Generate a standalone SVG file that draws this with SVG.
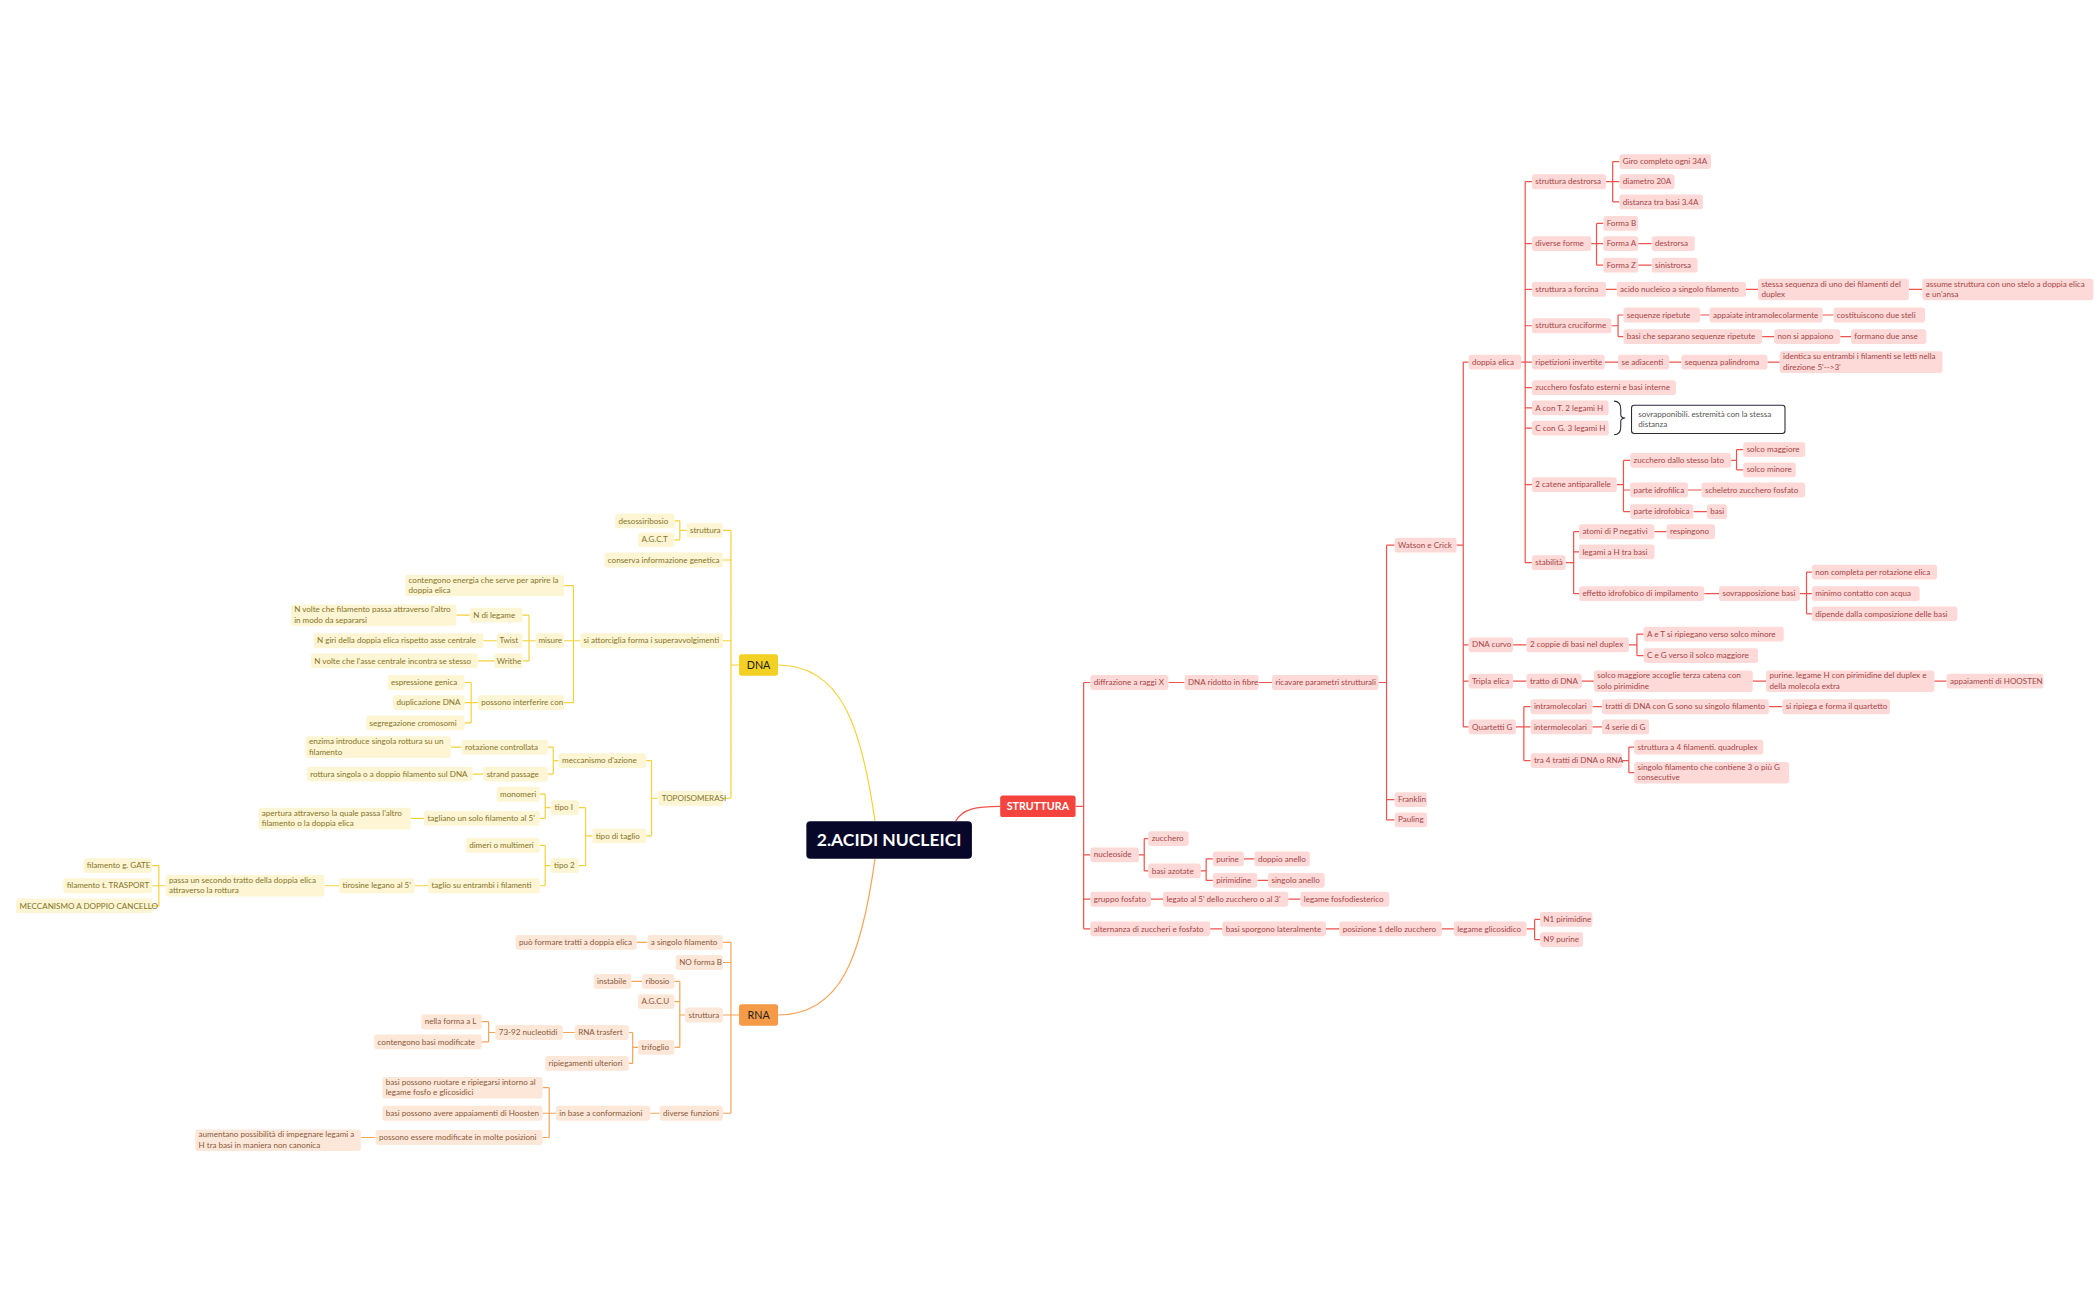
<svg xmlns="http://www.w3.org/2000/svg" width="2100" height="1300" viewBox="0 0 2100 1300">
<style>
text{font-family:Lato,"Open Sans",sans-serif;font-size:6px}
.y rect{fill:#fdf5d3}.y text{fill:#85742a}
.o rect{fill:#fde7d9}.o text{fill:#8a5a3a}
.r rect{fill:#fdd9d8}.r text{fill:#a54646}
.cy{fill:none;stroke:#f5d237;stroke-width:0.9}
.co{fill:none;stroke:#f6a458;stroke-width:0.9}
.cr{fill:none;stroke:#f0524c;stroke-width:0.9}
</style>
<rect width="2100" height="1300" fill="#fff"/>
<g transform="scale(1.34615)">
<g id="connectors" stroke-linejoin="round">
<path class="cy" d="M650 610 C640 540 625 494 578 494" stroke-width="1.1"/>
<path class="co" d="M650 638 C640 710 625 754 578 754" stroke-width="1.1"/>
<path class="cr" d="M710 610 C715 601 725 599 743 599" stroke-width="1.1"/>
<path class="cy" d="M549 494H543M543 394V593M543 394H537M543 416H537M543 476H537M543 593H537
M510 394H505M505 387V401M505 387H501M505 401H501
M431 476H426M426 435V522M426 435H419M426 476H419M426 522H419
M398 476H393M393 457V491M393 457H388M393 476H388M393 491H388
M349 457H339M369 476H359M367 491H355
M355 522H350M350 507V537M350 507H345M350 522H345M350 537H345
M489 593H484M484 565V621M484 565H480M484 621H480
M415 565H411M411 555V575M411 555H407M411 575H407
M343 555H335M359 575H351
M440 621H435M435 600V643M435 600H430M435 643H430
M409 600H405M405 590V608M405 590H401M405 608H401
M315 608H305
M409 643H405M405 628V658M405 628H401M405 658H401
M318 658H308M252 658H241
M123 658H118M118 643V673M118 643H113M118 658H113M118 673H113"/>
<path class="co" d="M549 754H543M543 700V827M543 700H537M543 715H537M543 754H537M543 827H537
M481 700H473
M509 754H505M505 729V778M505 729H501M505 744H501M505 778H501
M477 729H469
M474 778H470M470 767V790M470 767H467M470 790H467
M427 767H418
M368 767H363M363 759V774M363 759H358M363 774H358
M490 827H483
M413 827H408M408 808V845M408 808H403M408 827H403M408 845H403
M279 845H268"/>
<path class="cr" d="M799 599H805M805 507V690M805 507H810M805 635H810M805 668H810M805 690H810
M868 507H880M935 507H945M1024 507H1030
M1030 405V609M1030 405H1036M1030 594H1036M1030 609H1036
M1082 405H1087M1087 269V540M1087 269H1091M1087 479H1091M1087 506H1091M1087 540H1091
M1130 269H1133M1133 135V418M1133 135H1138M1133 181H1138M1133 215H1138M1133 242H1138M1133 269H1138M1133 288H1138M1133 303H1138M1133 318H1138M1133 360H1138M1133 418H1138
M1193 135H1198M1198 120V150M1198 120H1203M1198 135H1203M1198 150H1203
M1182 181H1186M1186 166V197M1186 166H1191M1186 181H1191M1186 197H1191
M1217 181H1227M1217 197H1227
M1193 215H1201M1297 215H1306M1418 215H1428
M1197 242H1202M1202 234V250M1202 234H1206M1202 250H1206
M1263 234H1270M1354 234H1362M1309 250H1318M1367 250H1375
M1192 269H1202M1240 269H1249M1313 269H1322
M1201 360H1206M1206 342V380M1206 342H1211M1206 364H1211M1206 380H1211
M1286 342H1290M1290 334V349M1290 334H1295M1290 349H1295
M1254 364H1264M1258 380H1268
M1163 418H1169M1169 395V441M1169 395H1173M1169 410H1173M1169 441H1173
M1229 395H1238M1266 441H1277
M1337 441H1342M1342 425V456M1342 425H1346M1342 441H1346M1342 456H1346
M1124 479H1134M1210 479H1216M1216 471V487M1216 471H1221M1216 487H1221
M1124 506H1134M1175 506H1184M1302 506H1312M1437 506H1446
M1126 540H1132M1132 525V565M1132 525H1137M1132 540H1137M1132 565H1137
M1183 525H1190M1314 525H1324M1183 540H1190
M1205 565H1210M1210 555V574M1210 555H1214M1210 574H1214
M846 635H850M850 623V647M850 623H853M850 647H853
M892 647H896M896 638V654M896 638H901M896 654H901
M924 638H932M934 654H942
M855 668H864M957 668H966
M899 690H908M985 690H995M1071 690H1080
M1134 690H1140M1140 683V698M1140 683H1144M1140 698H1144"/>
<path d="M1199 298Q1204 298 1204 304V308Q1204 310.5 1207 310.5Q1204 311 1204 313V317Q1204 323 1199 323" fill="none" stroke="#2a2a3a" stroke-width="0.8"/>
</g>

<g id="root"><rect x="599" y="610" width="123" height="28" rx="3" fill="#07072a"/><text x="660.5" y="628.5" text-anchor="middle" style="font-size:13px;font-weight:bold;fill:#fff">2.ACIDI NUCLEICI</text></g>
<g id="n-struttura"><rect x="743" y="591" width="56" height="16" rx="2" fill="#f5433d"/><text x="771" y="602" text-anchor="middle" style="font-size:8px;font-weight:bold;fill:#fff">STRUTTURA</text></g>
<g id="n-dna"><rect x="549" y="486" width="29" height="16" rx="2" fill="#f2d024"/><text x="563.5" y="497" text-anchor="middle" style="font-size:8px;fill:#222">DNA</text></g>
<g id="n-rna"><rect x="549" y="746" width="29" height="16" rx="2" fill="#f59a46"/><text x="563.5" y="757" text-anchor="middle" style="font-size:8px;fill:#222">RNA</text></g>

<g class="y">
<g id="y1"><rect x="510" y="388.5" width="27" height="11" rx="2"/><text x="512.5" y="396">struttura</text></g>
<g id="y2"><rect x="457" y="381.5" width="44" height="11" rx="2"/><text x="459.5" y="389">desossiribosio</text></g>
<g id="y3"><rect x="474" y="395.5" width="27" height="11" rx="2"/><text x="476.5" y="403">A.G.C.T</text></g>
<g id="y4"><rect x="449" y="410.5" width="88" height="11" rx="2"/><text x="451.5" y="418">conserva informazione genetica</text></g>
<g id="y5"><rect x="431" y="470.5" width="106" height="11" rx="2"/><text x="433.5" y="478">si attorciglia forma i superavvolgimenti</text></g>
<g id="y6"><rect x="301" y="427" width="118" height="16" rx="2"/><text x="303.5" y="433">contengono energia che serve per aprire la</text><text x="303.5" y="440.5">doppia elica</text></g>
<g id="y7"><rect x="398" y="470.5" width="21" height="11" rx="2"/><text x="400" y="478">misure</text></g>
<g id="y8"><rect x="349" y="451.5" width="39" height="11" rx="2"/><text x="351.5" y="459">N di legame</text></g>
<g id="y9"><rect x="369" y="470.5" width="19" height="11" rx="2"/><text x="371" y="478">Twist</text></g>
<g id="y10"><rect x="367" y="485.5" width="21" height="11" rx="2"/><text x="369" y="493">Writhe</text></g>
<g id="y11"><rect x="216" y="449" width="123" height="16" rx="2"/><text x="218.5" y="455">N volte che filamento passa attraverso l'altro</text><text x="218.5" y="462.5">in modo da separarsi</text></g>
<g id="y12"><rect x="233" y="470.5" width="126" height="11" rx="2"/><text x="235.5" y="478">N giri della doppia elica rispetto asse centrale</text></g>
<g id="y13"><rect x="231" y="485.5" width="124" height="11" rx="2"/><text x="233.5" y="493">N volte che l'asse centrale incontra se stesso</text></g>
<g id="y14"><rect x="355" y="516.5" width="64" height="11" rx="2"/><text x="357.5" y="524">possono interferire con</text></g>
<g id="y15"><rect x="288" y="501.5" width="57" height="11" rx="2"/><text x="290.5" y="509">espressione genica</text></g>
<g id="y16"><rect x="292" y="516.5" width="53" height="11" rx="2"/><text x="294.5" y="524">duplicazione DNA</text></g>
<g id="y17"><rect x="272" y="531.5" width="73" height="11" rx="2"/><text x="274.5" y="539">segregazione cromosomi</text></g>
<g id="y18"><rect x="489" y="587.5" width="48" height="11" rx="2"/><text x="491.5" y="595">TOPOISOMERASI</text></g>
<g id="y19"><rect x="415" y="559.5" width="65" height="11" rx="2"/><text x="417.5" y="567">meccanismo d'azione</text></g>
<g id="y20"><rect x="343" y="549.5" width="64" height="11" rx="2"/><text x="345.5" y="557">rotazione controllata</text></g>
<g id="y21"><rect x="359" y="569.5" width="48" height="11" rx="2"/><text x="361.5" y="577">strand passage</text></g>
<g id="y22"><rect x="227" y="547" width="108" height="16" rx="2"/><text x="229.5" y="553">enzima introduce singola rottura su un</text><text x="229.5" y="560.5">filamento</text></g>
<g id="y23"><rect x="228" y="569.5" width="123" height="11" rx="2"/><text x="230.5" y="577">rottura singola o a doppio filamento sul DNA</text></g>
<g id="y24"><rect x="440" y="615.5" width="40" height="11" rx="2"/><text x="442.5" y="623">tipo di taglio</text></g>
<g id="y25"><rect x="409" y="594.5" width="21" height="11" rx="2"/><text x="412" y="602">tipo I</text></g>
<g id="y26"><rect x="369" y="584.5" width="32" height="11" rx="2"/><text x="371.5" y="592">monomeri</text></g>
<g id="y27"><rect x="315" y="602.5" width="86" height="11" rx="2"/><text x="317.5" y="610">tagliano un solo filamento al 5'</text></g>
<g id="y28"><rect x="192" y="600" width="113" height="16" rx="2"/><text x="194.5" y="606">apertura attraverso la quale passa l'altro</text><text x="194.5" y="613.5">filamento o la doppia elica</text></g>
<g id="y29"><rect x="409" y="637.5" width="21" height="11" rx="2"/><text x="411.5" y="645">tipo 2</text></g>
<g id="y30"><rect x="346" y="622.5" width="55" height="11" rx="2"/><text x="348.5" y="630">dimeri o multimeri</text></g>
<g id="y31"><rect x="318" y="652.5" width="83" height="11" rx="2"/><text x="320.5" y="660">taglio su entrambi i filamenti</text></g>
<g id="y32"><rect x="252" y="652.5" width="56" height="11" rx="2"/><text x="254.5" y="660">tirosine legano al 5'</text></g>
<g id="y33"><rect x="123" y="650" width="118" height="16" rx="2"/><text x="125.5" y="656">passa un secondo tratto della doppia elica</text><text x="125.5" y="663.5">attraverso la rottura</text></g>
<g id="y34"><rect x="62" y="637.5" width="51" height="11" rx="2"/><text x="64.5" y="645">filamento g. GATE</text></g>
<g id="y35"><rect x="47" y="652.5" width="66" height="11" rx="2"/><text x="49.5" y="660">filamento t. TRASPORT</text></g>
<g id="y36"><rect x="12" y="667.5" width="101" height="11" rx="2"/><text x="14.5" y="675">MECCANISMO A DOPPIO CANCELLO</text></g>
</g>

<g class="o">
<g id="o1"><rect x="481" y="694.5" width="56" height="11" rx="2"/><text x="483.5" y="702">a singolo filamento</text></g>
<g id="o2"><rect x="383" y="694.5" width="90" height="11" rx="2"/><text x="385.5" y="702">può formare tratti a doppia elica</text></g>
<g id="o3"><rect x="502" y="709.5" width="35" height="11" rx="2"/><text x="504.5" y="717">NO forma B</text></g>
<g id="o4"><rect x="509" y="748.5" width="28" height="11" rx="2"/><text x="511.5" y="756">struttura</text></g>
<g id="o5"><rect x="477" y="723.5" width="24" height="11" rx="2"/><text x="479.5" y="731">ribosio</text></g>
<g id="o6"><rect x="441" y="723.5" width="28" height="11" rx="2"/><text x="443.5" y="731">instabile</text></g>
<g id="o7"><rect x="474" y="738.5" width="27" height="11" rx="2"/><text x="476.5" y="746">A.G.C.U</text></g>
<g id="o8"><rect x="474" y="772.5" width="27" height="11" rx="2"/><text x="476.5" y="780">trifoglio</text></g>
<g id="o9"><rect x="427" y="761.5" width="40" height="11" rx="2"/><text x="429.5" y="769">RNA trasfert</text></g>
<g id="o10"><rect x="405" y="784.5" width="62" height="11" rx="2"/><text x="407.5" y="792">ripiegamenti ulteriori</text></g>
<g id="o11"><rect x="368" y="761.5" width="50" height="11" rx="2"/><text x="370.5" y="769">73-92 nucleotidi</text></g>
<g id="o12"><rect x="313" y="753.5" width="45" height="11" rx="2"/><text x="315.5" y="761">nella forma a L</text></g>
<g id="o13"><rect x="278" y="768.5" width="80" height="11" rx="2"/><text x="280.5" y="776">contengono basi modificate</text></g>
<g id="o14"><rect x="490" y="821.5" width="47" height="11" rx="2"/><text x="492.5" y="829">diverse funzioni</text></g>
<g id="o15"><rect x="413" y="821.5" width="70" height="11" rx="2"/><text x="415.5" y="829">in base a conformazioni</text></g>
<g id="o16"><rect x="284" y="800" width="119" height="16" rx="2"/><text x="286.5" y="806">basi possono ruotare e ripiegarsi intorno al</text><text x="286.5" y="813.5">legame fosfo e glicosidici</text></g>
<g id="o17"><rect x="284" y="821.5" width="119" height="11" rx="2"/><text x="286.5" y="829">basi possono avere appaiamenti di Hoosten</text></g>
<g id="o18"><rect x="279" y="839.5" width="124" height="11" rx="2"/><text x="281.5" y="847">possono essere modificate in molte posizioni</text></g>
<g id="o19"><rect x="145" y="839" width="123" height="16" rx="2"/><text x="147.5" y="845">aumentano possibilità di impegnare legami a</text><text x="147.5" y="852.5">H tra basi in maniera non canonica</text></g>
</g>

<g class="r">
<g id="r1"><rect x="810" y="501.5" width="58" height="11" rx="2"/><text x="812.5" y="509">diffrazione a raggi X</text></g>
<g id="r2"><rect x="880" y="501.5" width="55" height="11" rx="2"/><text x="882.5" y="509">DNA ridotto in fibre</text></g>
<g id="r3"><rect x="945" y="501.5" width="79" height="11" rx="2"/><text x="947.5" y="509">ricavare parametri strutturali</text></g>
<g id="r4"><rect x="1036" y="399.5" width="46" height="11" rx="2"/><text x="1038.5" y="407">Watson e Crick</text></g>
<g id="r5"><rect x="1036" y="588.5" width="24" height="11" rx="2"/><text x="1038.5" y="596">Franklin</text></g>
<g id="r6"><rect x="1036" y="603.5" width="24" height="11" rx="2"/><text x="1038.5" y="611">Pauling</text></g>
<g id="r7"><rect x="1091" y="263.5" width="39" height="11" rx="2"/><text x="1093.5" y="271">doppia elica</text></g>
<g id="r8"><rect x="1138" y="129.5" width="55" height="11" rx="2"/><text x="1140.5" y="137">struttura destrorsa</text></g>
<g id="r9"><rect x="1203" y="114.5" width="68" height="11" rx="2"/><text x="1205.5" y="122">Giro completo ogni 34A</text></g>
<g id="r10"><rect x="1203" y="129.5" width="41" height="11" rx="2"/><text x="1205.5" y="137">diametro 20A</text></g>
<g id="r11"><rect x="1203" y="144.5" width="62" height="11" rx="2"/><text x="1205.5" y="152">distanza tra basi 3.4A</text></g>
<g id="r12"><rect x="1138" y="175.5" width="44" height="11" rx="2"/><text x="1140.5" y="183">diverse forme</text></g>
<g id="r13"><rect x="1191" y="160.5" width="26" height="11" rx="2"/><text x="1193.5" y="168">Forma B</text></g>
<g id="r14"><rect x="1191" y="175.5" width="26" height="11" rx="2"/><text x="1193.5" y="183">Forma A</text></g>
<g id="r15"><rect x="1227" y="175.5" width="32" height="11" rx="2"/><text x="1229.5" y="183">destrorsa</text></g>
<g id="r16"><rect x="1191" y="191.5" width="26" height="11" rx="2"/><text x="1193.5" y="199">Forma Z</text></g>
<g id="r17"><rect x="1227" y="191.5" width="34" height="11" rx="2"/><text x="1229.5" y="199">sinistrorsa</text></g>
<g id="r18"><rect x="1138" y="209.5" width="55" height="11" rx="2"/><text x="1140.5" y="217">struttura a forcina</text></g>
<g id="r19"><rect x="1201" y="209.5" width="96" height="11" rx="2"/><text x="1203.5" y="217">acido nucleico a singolo filamento</text></g>
<g id="r20"><rect x="1306" y="207" width="112" height="16" rx="2"/><text x="1308.5" y="213">stessa sequenza di uno dei filamenti del</text><text x="1308.5" y="220.5">duplex</text></g>
<g id="r21"><rect x="1428" y="207" width="127" height="16" rx="2"/><text x="1430.5" y="213">assume struttura con uno stelo a doppia elica</text><text x="1430.5" y="220.5">e un'ansa</text></g>
<g id="r22"><rect x="1138" y="236.5" width="59" height="11" rx="2"/><text x="1140.5" y="244">struttura cruciforme</text></g>
<g id="r23"><rect x="1206" y="228.5" width="57" height="11" rx="2"/><text x="1208.5" y="236">sequenze ripetute</text></g>
<g id="r24"><rect x="1270" y="228.5" width="84" height="11" rx="2"/><text x="1272.5" y="236">appaiate intramolecolarmente</text></g>
<g id="r25"><rect x="1362" y="228.5" width="68" height="11" rx="2"/><text x="1364.5" y="236">costituiscono due steli</text></g>
<g id="r26"><rect x="1206" y="244.5" width="103" height="11" rx="2"/><text x="1208.5" y="252">basi che separano sequenze ripetute</text></g>
<g id="r27"><rect x="1318" y="244.5" width="49" height="11" rx="2"/><text x="1320.5" y="252">non si appaiono</text></g>
<g id="r28"><rect x="1375" y="244.5" width="56" height="11" rx="2"/><text x="1377.5" y="252">formano due anse</text></g>
<g id="r29"><rect x="1138" y="263.5" width="54" height="11" rx="2"/><text x="1140.5" y="271">ripetizioni invertite</text></g>
<g id="r30"><rect x="1202" y="263.5" width="38" height="11" rx="2"/><text x="1204.5" y="271">se adiacenti</text></g>
<g id="r31"><rect x="1249" y="263.5" width="64" height="11" rx="2"/><text x="1251.5" y="271">sequenza palindroma</text></g>
<g id="r32"><rect x="1322" y="261" width="121" height="16" rx="2"/><text x="1324.5" y="267">identica su entrambi i filamenti se letti nella</text><text x="1324.5" y="274.5">direzione 5'--&gt;3'</text></g>
<g id="r33"><rect x="1138" y="282.5" width="107" height="11" rx="2"/><text x="1140.5" y="290">zucchero fosfato esterni e basi interne</text></g>
<g id="r34"><rect x="1138" y="297.5" width="57" height="11" rx="2"/><text x="1140.5" y="305">A con T. 2 legami H</text></g>
<g id="r35"><rect x="1138" y="312.5" width="57" height="11" rx="2"/><text x="1140.5" y="320">C con G. 3 legami H</text></g>
<g id="r36"><rect x="1138" y="354.5" width="63" height="11" rx="2"/><text x="1140.5" y="362">2 catene antiparallele</text></g>
<g id="r37"><rect x="1211" y="336.5" width="75" height="11" rx="2"/><text x="1213.5" y="344">zucchero dallo stesso lato</text></g>
<g id="r38"><rect x="1295" y="328.5" width="46" height="11" rx="2"/><text x="1297.5" y="336">solco maggiore</text></g>
<g id="r39"><rect x="1295" y="343.5" width="39" height="11" rx="2"/><text x="1297.5" y="351">solco minore</text></g>
<g id="r40"><rect x="1211" y="358.5" width="43" height="11" rx="2"/><text x="1213.5" y="366">parte idrofilica</text></g>
<g id="r41"><rect x="1264" y="358.5" width="77" height="11" rx="2"/><text x="1266.5" y="366">scheletro zucchero fosfato</text></g>
<g id="r42"><rect x="1211" y="374.5" width="47" height="11" rx="2"/><text x="1213.5" y="382">parte idrofobica</text></g>
<g id="r43"><rect x="1268" y="374.5" width="15" height="11" rx="2"/><text x="1270.5" y="382">basi</text></g>
<g id="r44"><rect x="1138" y="412.5" width="25" height="11" rx="2"/><text x="1140.5" y="420">stabilità</text></g>
<g id="r45"><rect x="1173" y="389.5" width="56" height="11" rx="2"/><text x="1175.5" y="397">atomi di P negativi</text></g>
<g id="r46"><rect x="1238" y="389.5" width="36" height="11" rx="2"/><text x="1240.5" y="397">respingono</text></g>
<g id="r47"><rect x="1173" y="404.5" width="56" height="11" rx="2"/><text x="1175.5" y="412">legami a H tra basi</text></g>
<g id="r48"><rect x="1173" y="435.5" width="93" height="11" rx="2"/><text x="1175.5" y="443">effetto idrofobico di impilamento</text></g>
<g id="r49"><rect x="1277" y="435.5" width="60" height="11" rx="2"/><text x="1279.5" y="443">sovrapposizione basi</text></g>
<g id="r50"><rect x="1346" y="419.5" width="93" height="11" rx="2"/><text x="1348.5" y="427">non completa per rotazione elica</text></g>
<g id="r51"><rect x="1346" y="435.5" width="80" height="11" rx="2"/><text x="1348.5" y="443">minimo contatto con acqua</text></g>
<g id="r52"><rect x="1346" y="450.5" width="108" height="11" rx="2"/><text x="1348.5" y="458">dipende dalla composizione delle basi</text></g>
<g id="r53"><rect x="1091" y="473.5" width="33" height="11" rx="2"/><text x="1093.5" y="481">DNA curvo</text></g>
<g id="r54"><rect x="1134" y="473.5" width="76" height="11" rx="2"/><text x="1136.5" y="481">2 coppie di basi nel duplex</text></g>
<g id="r55"><rect x="1221" y="465.5" width="104" height="11" rx="2"/><text x="1223.5" y="473">A e T si ripiegano verso solco minore</text></g>
<g id="r56"><rect x="1221" y="481.5" width="85" height="11" rx="2"/><text x="1223.5" y="489">C e G verso il solco maggiore</text></g>
<g id="r57"><rect x="1091" y="500.5" width="33" height="11" rx="2"/><text x="1093.5" y="508">Tripla elica</text></g>
<g id="r58"><rect x="1134" y="500.5" width="41" height="11" rx="2"/><text x="1136.5" y="508">tratto di DNA</text></g>
<g id="r59"><rect x="1184" y="498" width="118" height="16" rx="2"/><text x="1186.5" y="504">solco maggiore accoglie terza catena con</text><text x="1186.5" y="511.5">solo pirimidine</text></g>
<g id="r60"><rect x="1312" y="498" width="125" height="16" rx="2"/><text x="1314.5" y="504">purine. legame H con pirimidine del duplex e</text><text x="1314.5" y="511.5">della molecola extra</text></g>
<g id="r61"><rect x="1446" y="500.5" width="72" height="11" rx="2"/><text x="1448.5" y="508">appaiamenti di HOOSTEN</text></g>
<g id="r62"><rect x="1091" y="534.5" width="35" height="11" rx="2"/><text x="1093.5" y="542">Quartetti G</text></g>
<g id="r63"><rect x="1137" y="519.5" width="46" height="11" rx="2"/><text x="1139.5" y="527">intramolecolari</text></g>
<g id="r64"><rect x="1190" y="519.5" width="124" height="11" rx="2"/><text x="1192.5" y="527">tratti di DNA con G sono su singolo filamento</text></g>
<g id="r65"><rect x="1324" y="519.5" width="80" height="11" rx="2"/><text x="1326.5" y="527">si ripiega e forma il quartetto</text></g>
<g id="r66"><rect x="1137" y="534.5" width="46" height="11" rx="2"/><text x="1139.5" y="542">intermolecolari</text></g>
<g id="r67"><rect x="1190" y="534.5" width="35" height="11" rx="2"/><text x="1192.5" y="542">4 serie di G</text></g>
<g id="r68"><rect x="1137" y="559.5" width="68" height="11" rx="2"/><text x="1139.5" y="567">tra 4 tratti di DNA o RNA</text></g>
<g id="r69"><rect x="1214" y="549.5" width="96" height="11" rx="2"/><text x="1216.5" y="557">struttura a 4 filamenti. quadruplex</text></g>
<g id="r70"><rect x="1214" y="566" width="115" height="16" rx="2"/><text x="1216.5" y="572">singolo filamento che contiene 3 o più G</text><text x="1216.5" y="579.5">consecutive</text></g>
<g id="r71"><rect x="810" y="629.5" width="36" height="11" rx="2"/><text x="812.5" y="637">nucleoside</text></g>
<g id="r72"><rect x="853" y="617.5" width="30" height="11" rx="2"/><text x="855.5" y="625">zucchero</text></g>
<g id="r73"><rect x="853" y="641.5" width="39" height="11" rx="2"/><text x="855.5" y="649">basi azotate</text></g>
<g id="r74"><rect x="901" y="632.5" width="23" height="11" rx="2"/><text x="903.5" y="640">purine</text></g>
<g id="r75"><rect x="932" y="632.5" width="41" height="11" rx="2"/><text x="934.5" y="640">doppio anello</text></g>
<g id="r76"><rect x="901" y="648.5" width="33" height="11" rx="2"/><text x="903.5" y="656">pirimidine</text></g>
<g id="r77"><rect x="942" y="648.5" width="42" height="11" rx="2"/><text x="944.5" y="656">singolo anello</text></g>
<g id="r78"><rect x="810" y="662.5" width="45" height="11" rx="2"/><text x="812.5" y="670">gruppo fosfato</text></g>
<g id="r79"><rect x="864" y="662.5" width="93" height="11" rx="2"/><text x="866.5" y="670">legato al 5' dello zucchero o al 3'</text></g>
<g id="r80"><rect x="966" y="662.5" width="66" height="11" rx="2"/><text x="968.5" y="670">legame fosfodiesterico</text></g>
<g id="r81"><rect x="810" y="684.5" width="89" height="11" rx="2"/><text x="812.5" y="692">alternanza di zuccheri e fosfato</text></g>
<g id="r82"><rect x="908" y="684.5" width="77" height="11" rx="2"/><text x="910.5" y="692">basi sporgono lateralmente</text></g>
<g id="r83"><rect x="995" y="684.5" width="76" height="11" rx="2"/><text x="997.5" y="692">posizione 1 dello zucchero</text></g>
<g id="r84"><rect x="1080" y="684.5" width="54" height="11" rx="2"/><text x="1082.5" y="692">legame glicosidico</text></g>
<g id="r85"><rect x="1144" y="677.5" width="39" height="11" rx="2"/><text x="1146.5" y="685">N1 pirimidine</text></g>
<g id="r86"><rect x="1144" y="692.5" width="32" height="11" rx="2"/><text x="1146.5" y="700">N9 purine</text></g>
</g>
<g id="summary"><rect x="1212" y="301" width="114" height="21" rx="2" fill="#fff" stroke="#2a2a3a" stroke-width="0.8"/><text x="1217" y="309.5" fill="#555">sovrapponibili. estremità con la stessa</text><text x="1217" y="317" fill="#555">distanza</text></g>
</g>
</svg>
